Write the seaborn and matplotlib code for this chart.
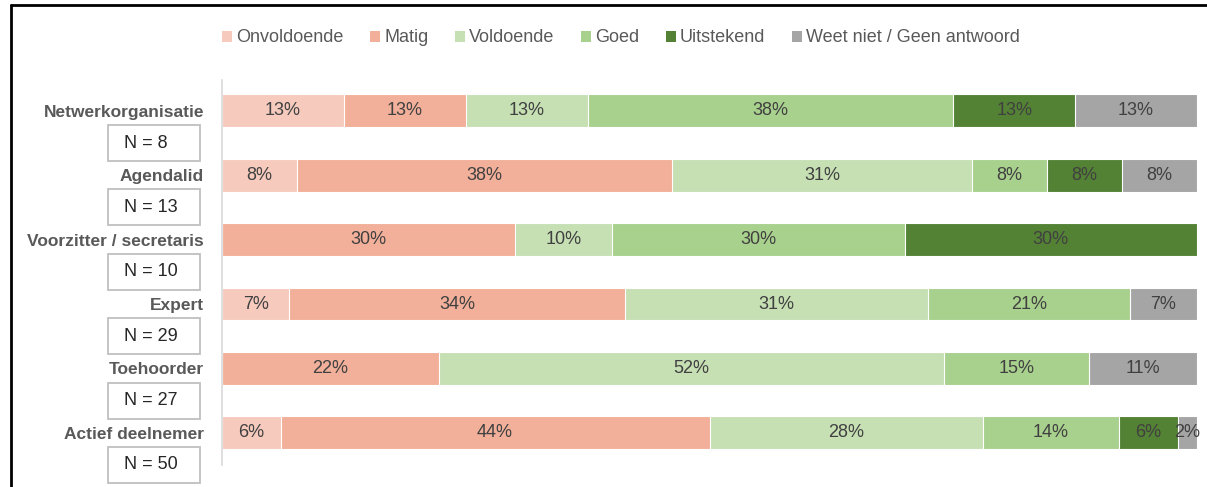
import math
import numpy as np
import pandas as pd
import seaborn as sns
import matplotlib
matplotlib.use("Agg")
import matplotlib.pyplot as plt
from matplotlib.patches import Rectangle, Patch
from matplotlib.lines import Line2D
import matplotlib.transforms as mtransforms

# ---- data ----
groups = ["Netwerkorganisatie", "Agendalid", "Voorzitter / secretaris",
          "Expert", "Toehoorder", "Actief deelnemer"]
n_labels = ["N = 8", "N = 13", "N = 10", "N = 29", "N = 27", "N = 50"]
ratings = ["Onvoldoende", "Matig", "Voldoende", "Goed", "Uitstekend",
           "Weet niet / Geen antwoord"]
onvoldoende = [12.5, 7.69, 0.0, 6.90, 0.0, 6.0]
matig       = [12.5, 38.46, 30.0, 34.48, 22.22, 44.0]
voldoende   = [12.5, 30.77, 10.0, 31.03, 51.85, 28.0]
goed        = [37.5, 7.69, 30.0, 20.69, 14.81, 14.0]
uitstekend  = [12.5, 7.69, 30.0, 0.0, 0.0, 6.0]
weet_niet   = [12.5, 7.69, 0.0, 6.90, 11.11, 2.0]
colors = ["#F6CBBE", "#F2B09A", "#C6E0B4", "#A9D18E", "#548235", "#A5A5A5"]

series = [onvoldoende, matig, voldoende, goed, uitstekend, weet_niet]

sns.set_theme(style="white")
plt.rcParams["font.family"] = ["Liberation Sans", "DejaVu Sans"]

W, H = 1207, 487
fig = plt.figure(figsize=(W / 100, H / 100), dpi=100)
ax = fig.add_axes([222 / W, 1 - 465 / H, 975 / W, 385 / H])

vals = np.array(series)            # shape (6 ratings, 6 groups)
cum = np.cumsum(vals, axis=0)

# draw cumulative bars from the full total down (stack via overlay)
for j in range(len(ratings) - 1, -1, -1):
    df = pd.DataFrame({"group": groups, "value": cum[j]})
    sns.barplot(data=df, x="value", y="group", orient="h", color=colors[j],
                width=0.51, edgecolor="white", linewidth=0.8,
                saturation=1, errorbar=None, ax=ax)

# percentage labels
for j in range(len(ratings)):
    for i in range(len(groups)):
        v = vals[j, i]
        if v <= 0:
            continue
        center = cum[j, i] - v / 2
        ax.text(center, i, f"{math.floor(v + 0.5):d}%", ha="center",
                va="center", fontsize=13, color="#404040")

ax.set_xlim(0, 100)
ax.set_ylim(5.5, -0.48)
ax.set_xlabel("")
ax.set_ylabel("")
ax.set_xticks([])
for s in ["top", "right", "bottom"]:
    ax.spines[s].set_visible(False)
ax.spines["left"].set_color("#D9D9D9")
ax.spines["left"].set_linewidth(1.2)
ax.tick_params(axis="y", length=0, pad=13)
for lab in ax.get_yticklabels():
    lab.set_fontweight("bold")
    lab.set_fontsize(12.5)
    lab.set_color("#595959")

# N boxes
trans = mtransforms.blended_transform_factory(ax.transAxes, ax.transData)
bx0 = (108 - 222) / 975
bx1 = (200 - 222) / 975
bh = 36 / 64.4
for i, nl in enumerate(n_labels):
    yc = i + 0.5
    ax.add_patch(Rectangle((bx0, yc - bh / 2), bx1 - bx0, bh, transform=trans,
                           facecolor="white", edgecolor="#BFBFBF", linewidth=1.3,
                           clip_on=False, zorder=5))
    ax.text((124 - 222) / 975, yc, nl, transform=trans, ha="left", va="center",
            fontsize=13, color="#262626", zorder=6, clip_on=False)

# legend
handles = [Patch(facecolor=c, edgecolor="none") for c in colors]
fig.legend(handles, ratings, loc="center", bbox_to_anchor=(621 / W, 1 - 38 / H),
           ncol=6, frameon=False, fontsize=13, handlelength=0.55,
           handleheight=0.55, handletextpad=0.25, columnspacing=1.45,
           labelcolor="#595959")

# outer chart border (top and left visible)
fig.add_artist(Line2D([11 / W, 1.0], [1 - 5 / H, 1 - 5 / H], color="black",
                      linewidth=2, transform=fig.transFigure))
fig.add_artist(Line2D([11 / W, 11 / W], [0, 1 - 5 / H], color="black",
                      linewidth=2, transform=fig.transFigure))

fig.savefig("out.png", dpi=100)
